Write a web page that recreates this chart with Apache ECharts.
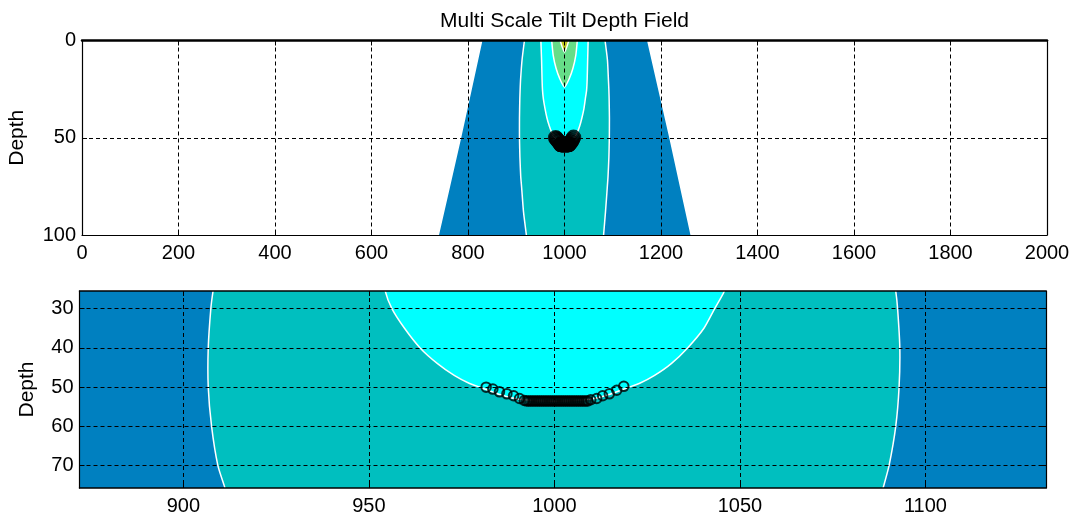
<!DOCTYPE html>
<html>
<head>
<meta charset="utf-8">
<script src="https://cdn.jsdelivr.net/npm/echarts@6/dist/echarts.min.js"></script>
<style>
html,body{margin:0;padding:0;background:#fff;}
#chart{width:1076px;height:517px;}
</style>
</head>
<body>
<div id="chart"></div>
<script>
// ---------------- data ----------------
const TITLE = 'Multi Scale Tilt Depth Field';
const Y_NAME = 'Depth';

// top panel axes
const topXMin = 0, topXMax = 2000, topXStep = 200;
const topYMin = 0, topYMax = 100, topYStep = 50;
// bottom (zoomed) panel axes
const botXMin = 872, botXMax = 1132.5;
const botXTicks = [900, 950, 1000, 1050, 1100];
const botYMin = 25.5, botYMax = 75.7;
const botYTicks = [30, 40, 50, 60, 70];

// contour boundaries: [x, depth]
const outerLeft  = [[830,0],[808,25],[786,50],[763,75],[740,100]];
const outerRight = [[1171,0],[1194,25],[1217,50],[1239,75],[1261,100]];
const tealLeft   = [[917,0],[912,10],[909,20],[908,25.5],[907.4,30],[906.7,40],[906.7,50],[907.6,60],[909.3,70],[911.2,75.7],[915,88],[921,100]];
const tealRight  = [[1084,0],[1089,10],[1091,20],[1092,25.5],[1092.5,30],[1093.1,40],[1092.9,50],[1092,60],[1090.2,70],[1088.6,75.7],[1085,88],[1081,100]];
const cyanCurve  = [[951,0],[952.5,10],[953.5,20],[954.4,25.5],[956.2,30],[959.6,35],[963.8,40],[968.5,44],[973,47],[977,49],[980.5,50.2],[985,51.8],[990,53],[1000,53.6],[1010,53],[1015,51.8],[1019.5,50.2],[1023,49],[1027,47],[1031.5,44],[1035.9,40],[1040.3,35],[1043.2,30],[1045.8,25.5],[1047,20],[1048,10],[1049,0]];
const greenCurve = [[973.5,0],[976.5,7.5],[982.5,14.3],[990,19.5],[1000,24],[1010,19.5],[1017.5,14.3],[1023.5,7.5],[1026.5,0]];
const yellowCurve= [[991,0],[1000,6],[1009,0]];

// estimated depth solutions (circles)
const markerX = [981.6,983.4,985.2,987.2,989.0,990.6,991.9,
  992.5,993.0,993.5,994.0,994.5,995.0,995.5,996.0,996.5,997.0,997.5,998.0,998.5,999.0,999.5,1000.0,
  1000.5,1001.0,1001.5,1002.0,1002.5,1003.0,1003.5,1004.0,1004.5,1005.0,1005.5,1006.0,1006.5,1007.0,1007.5,1008.0,1008.5,1009.0,
  1009.8,1011.4,1013.0,1014.8,1016.8,1018.7];
const markerDepth = [50.0,50.5,51.2,51.7,52.2,52.9,53.4,
  53.5,53.5,53.5,53.5,53.5,53.5,53.5,53.5,53.5,53.5,53.5,53.5,53.5,53.5,53.5,53.5,
  53.5,53.5,53.5,53.5,53.5,53.5,53.5,53.5,53.5,53.5,53.5,53.5,53.5,53.5,53.5,53.5,53.5,53.5,
  53.2,52.9,52.2,51.7,50.8,49.8];

// ---------------- styles ----------------
const C_DARK = '#0080C0', C_TEAL = '#00BFBF', C_CYAN = '#00FFFF', C_GREEN = '#66DD88', C_YELLOW = '#C0C820';
const FONT = 'Liberation Sans, Arial, sans-serif';
const TXT = '#000';

const regions = [
  { fill: C_DARK,   poly: outerLeft.concat(outerRight.slice().reverse()), lines: [] },
  { fill: C_TEAL,   poly: tealLeft.concat(tealRight.slice().reverse()), lines: [tealLeft, tealRight] },
  { fill: C_CYAN,   poly: cyanCurve, lines: [cyanCurve] },
  { fill: C_GREEN,  poly: greenCurve, lines: [greenCurve] },
  { fill: C_YELLOW, poly: yellowCurve, lines: [yellowCurve] }
];

function contourSeries(xi, yi) {
  return regions.map(function (r) {
    return {
      type: 'custom', xAxisIndex: xi, yAxisIndex: yi, clip: true, silent: true, z: 1,
      data: r.poly,
      renderItem: function (params, api) {
        if (params.dataIndex !== 0) return null;
        const children = [{
          type: 'polygon',
          shape: { points: r.poly.map(function (p) { return api.coord(p); }) },
          style: { fill: r.fill, stroke: null }
        }];
        r.lines.forEach(function (ln) {
          children.push({
            type: 'polyline',
            shape: { points: ln.map(function (p) { return api.coord(p); }), smooth: 0.2 },
            style: { fill: null, stroke: '#FFFFFF', lineWidth: 1.5 }
          });
        });
        return { type: 'group', children: children };
      }
    };
  });
}

const markerData = markerX.map(function (x, i) { return [x, markerDepth[i]]; });

const gridLine = { show: true, lineStyle: { color: '#000', type: [4, 3], width: 1 } };
const lbl = { color: TXT, fontFamily: FONT, fontSize: 20, formatter: function (v) { return String(v); } };

function xAxes(gi, min, max, step, custom, pos, showLbl, lw) {
  const a = {
    type: 'value', gridIndex: gi, min: min, max: max, position: pos, z: 5,
    axisLine: { show: true, onZero: false, lineStyle: { color: '#000', width: lw } },
    axisTick: { show: true, inside: true, length: 5, lineStyle: { color: '#000' } },
    axisLabel: Object.assign({ show: showLbl, margin: 8 }, lbl),
    splitLine: showLbl ? gridLine : { show: false }
  };
  if (custom) { a.axisTick.customValues = custom; a.axisLabel.customValues = custom; }
  else { a.interval = step; }
  return a;
}
function yAxes(gi, min, max, step, custom, pos, showLbl, nameGap) {
  const a = {
    type: 'value', gridIndex: gi, min: min, max: max, inverse: true, position: pos, z: 5,
    name: showLbl ? Y_NAME : '', nameLocation: 'middle', nameGap: nameGap,
    nameTextStyle: { color: TXT, fontFamily: FONT, fontSize: 21 },
    axisLine: { show: true, onZero: false, lineStyle: { color: '#000', width: 1.2 } },
    axisTick: { show: true, inside: true, length: 5, lineStyle: { color: '#000' } },
    axisLabel: Object.assign({ show: showLbl, margin: 6 }, lbl),
    splitLine: showLbl ? gridLine : { show: false }
  };
  if (custom) { a.axisTick.customValues = custom; a.axisLabel.customValues = custom; }
  else { a.interval = step; }
  return a;
}

const option = {
  animation: false,
  backgroundColor: '#fff',
  title: {
    text: TITLE, left: 435, top: 6,
    textStyle: { color: TXT, fontFamily: FONT, fontSize: 21, fontWeight: 'normal' }
  },
  grid: [
    { left: 82, top: 40.5, width: 965, height: 194.5, containLabel: false, outerBoundsMode: 'none' },
    { left: 79.5, top: 291, width: 966.5, height: 197, containLabel: false, outerBoundsMode: 'none' }
  ],
  xAxis: [
    xAxes(0, topXMin, topXMax, topXStep, null, 'bottom', true, 1.2),
    xAxes(0, topXMin, topXMax, topXStep, null, 'top', false, 2.5),
    xAxes(1, botXMin, botXMax, null, botXTicks, 'bottom', true, 1.5),
    xAxes(1, botXMin, botXMax, null, botXTicks, 'top', false, 1.5)
  ],
  yAxis: [
    yAxes(0, topYMin, topYMax, topYStep, null, 'left', true, 54),
    yAxes(0, topYMin, topYMax, topYStep, null, 'right', false, 0),
    yAxes(1, botYMin, botYMax, null, botYTicks, 'left', true, 42),
    yAxes(1, botYMin, botYMax, null, botYTicks, 'right', false, 0)
  ],
  series: contourSeries(0, 0).concat(contourSeries(2, 2)).concat([
    {
      type: 'scatter', xAxisIndex: 0, yAxisIndex: 0, z: 10, silent: true,
      symbol: 'circle', symbolSize: 13, data: markerData,
      itemStyle: { color: 'rgba(0,0,0,0)', borderColor: '#000', borderWidth: 2.5 }
    },
    {
      type: 'scatter', xAxisIndex: 2, yAxisIndex: 2, z: 10, silent: true,
      symbol: 'circle', symbolSize: 9.5, data: markerData,
      itemStyle: { color: 'rgba(0,0,0,0)', borderColor: '#000', borderWidth: 2 }
    }
  ])
};

const chart = echarts.init(document.getElementById('chart'), null, { renderer: 'canvas' });
chart.setOption(option);
</script>
</body>
</html>
